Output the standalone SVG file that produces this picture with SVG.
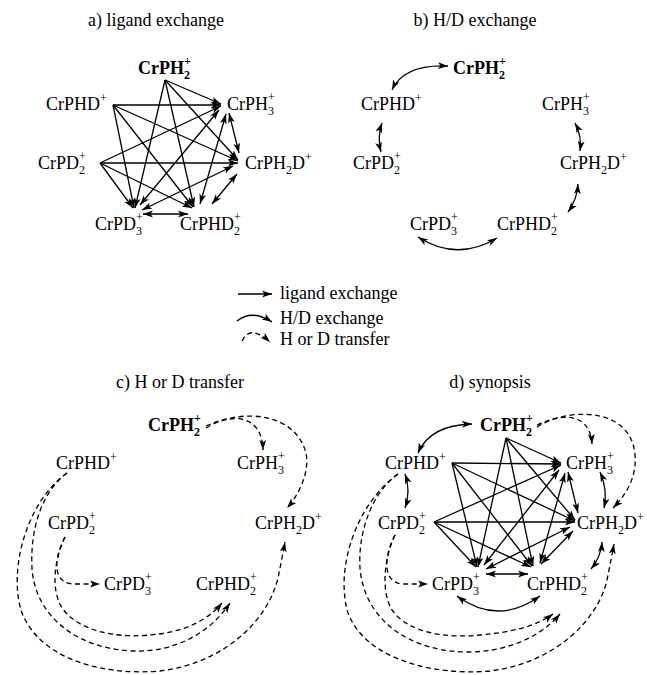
<svg xmlns="http://www.w3.org/2000/svg" width="647" height="675" viewBox="0 0 647 675">
<style>
.t{font-family:"Liberation Serif","Times New Roman",serif;font-size:18px;fill:#000}
.b{font-weight:bold}
.s{font-size:12px}
.ln{stroke:#000;stroke-width:1.3;fill:none}
.d{stroke-dasharray:5 3.5}
</style>
<defs>
<marker id="ah" viewBox="0 0 10 8" refX="10" refY="4" markerWidth="10" markerHeight="8" markerUnits="userSpaceOnUse" orient="auto-start-reverse"><path d="M0,0.6 L10,4 L0,7.4 L2.5,4 z" fill="#000"/></marker>
</defs>
<rect width="647" height="675" fill="#fff"/>

<!-- titles -->
<g id="titles">
<text class="t" x="156" y="26" text-anchor="middle">a) ligand exchange</text>
<text class="t" x="475" y="26" text-anchor="middle">b) H/D exchange</text>
<text class="t" x="180" y="388" text-anchor="middle">c) H or D transfer</text>
<text class="t" x="490" y="388" text-anchor="middle">d) synopsis</text>
</g>

<!-- ===== panel a ===== -->
<g id="a-PH2"><text class="t b" x="138" y="74">CrPH<tspan class="s" dy="5">2</tspan><tspan class="s" dx="-6" dy="-14">+</tspan></text></g>
<g id="a-PHD"><text class="t" x="46" y="110">CrPHD<tspan class="s" dy="-8">+</tspan></text></g>
<g id="a-PH3"><text class="t" x="227" y="110">CrPH<tspan class="s" dy="5">3</tspan><tspan class="s" dx="-6" dy="-14">+</tspan></text></g>
<g id="a-PD2"><text class="t" x="38" y="169">CrPD<tspan class="s" dy="5">2</tspan><tspan class="s" dx="-6" dy="-14">+</tspan></text></g>
<g id="a-PH2D"><text class="t" x="245" y="169">CrPH<tspan class="s" dy="5">2</tspan><tspan dy="-5">D</tspan><tspan class="s" dy="-8">+</tspan></text></g>
<g id="a-PD3"><text class="t" x="95" y="230">CrPD<tspan class="s" dy="5">3</tspan><tspan class="s" dx="-6" dy="-14">+</tspan></text></g>
<g id="a-PHD2"><text class="t" x="180" y="230">CrPHD<tspan class="s" dy="5">2</tspan><tspan class="s" dx="-6" dy="-14">+</tspan></text></g>

<!-- ===== panel b ===== -->
<g id="b-PH2"><text class="t b" x="453" y="74">CrPH<tspan class="s" dy="5">2</tspan><tspan class="s" dx="-6" dy="-14">+</tspan></text></g>
<g id="b-PHD"><text class="t" x="361" y="110">CrPHD<tspan class="s" dy="-8">+</tspan></text></g>
<g id="b-PH3"><text class="t" x="542" y="110">CrPH<tspan class="s" dy="5">3</tspan><tspan class="s" dx="-6" dy="-14">+</tspan></text></g>
<g id="b-PD2"><text class="t" x="353" y="169">CrPD<tspan class="s" dy="5">2</tspan><tspan class="s" dx="-6" dy="-14">+</tspan></text></g>
<g id="b-PH2D"><text class="t" x="560" y="169">CrPH<tspan class="s" dy="5">2</tspan><tspan dy="-5">D</tspan><tspan class="s" dy="-8">+</tspan></text></g>
<g id="b-PD3"><text class="t" x="410" y="230">CrPD<tspan class="s" dy="5">3</tspan><tspan class="s" dx="-6" dy="-14">+</tspan></text></g>
<g id="b-PHD2"><text class="t" x="497" y="230">CrPHD<tspan class="s" dy="5">2</tspan><tspan class="s" dx="-6" dy="-14">+</tspan></text></g>

<!-- ===== panel c ===== -->
<g id="c-PH2"><text class="t b" x="148" y="431">CrPH<tspan class="s" dy="5">2</tspan><tspan class="s" dx="-6" dy="-14">+</tspan></text></g>
<g id="c-PHD"><text class="t" x="56" y="469">CrPHD<tspan class="s" dy="-8">+</tspan></text></g>
<g id="c-PH3"><text class="t" x="237" y="469">CrPH<tspan class="s" dy="5">3</tspan><tspan class="s" dx="-6" dy="-14">+</tspan></text></g>
<g id="c-PD2"><text class="t" x="48" y="529">CrPD<tspan class="s" dy="5">2</tspan><tspan class="s" dx="-6" dy="-14">+</tspan></text></g>
<g id="c-PH2D"><text class="t" x="255" y="529">CrPH<tspan class="s" dy="5">2</tspan><tspan dy="-5">D</tspan><tspan class="s" dy="-8">+</tspan></text></g>
<g id="c-PD3"><text class="t" x="104" y="590">CrPD<tspan class="s" dy="5">3</tspan><tspan class="s" dx="-6" dy="-14">+</tspan></text></g>
<g id="c-PHD2"><text class="t" x="196" y="590">CrPHD<tspan class="s" dy="5">2</tspan><tspan class="s" dx="-6" dy="-14">+</tspan></text></g>

<!-- ===== panel d ===== -->
<g id="d-PH2"><text class="t b" x="480" y="431">CrPH<tspan class="s" dy="5">2</tspan><tspan class="s" dx="-6" dy="-14">+</tspan></text></g>
<g id="d-PHD"><text class="t" x="385" y="469">CrPHD<tspan class="s" dy="-8">+</tspan></text></g>
<g id="d-PH3"><text class="t" x="566" y="469">CrPH<tspan class="s" dy="5">3</tspan><tspan class="s" dx="-6" dy="-14">+</tspan></text></g>
<g id="d-PD2"><text class="t" x="378" y="529">CrPD<tspan class="s" dy="5">2</tspan><tspan class="s" dx="-6" dy="-14">+</tspan></text></g>
<g id="d-PH2D"><text class="t" x="577" y="529">CrPH<tspan class="s" dy="5">2</tspan><tspan dy="-5">D</tspan><tspan class="s" dy="-8">+</tspan></text></g>
<g id="d-PD3"><text class="t" x="432" y="590">CrPD<tspan class="s" dy="5">3</tspan><tspan class="s" dx="-6" dy="-14">+</tspan></text></g>
<g id="d-PHD2"><text class="t" x="527" y="590">CrPHD<tspan class="s" dy="5">2</tspan><tspan class="s" dx="-6" dy="-14">+</tspan></text></g>

<!-- legend -->
<g id="legend">
<line class="ln" x1="238" y1="294" x2="272" y2="294" marker-end="url(#ah)"/>
<text class="t" x="280" y="299">ligand exchange</text>
<path class="ln" d="M237,321 Q252,309 272,322" marker-end="url(#ah)"/>
<text class="t" x="280" y="324">H/D exchange</text>
<path class="ln d" d="M242,341 Q250,324 270,342" marker-end="url(#ah)"/>
<text class="t" x="280" y="345">H or D transfer</text>
</g>

<g id="connectors">
<!-- panel a ligand exchange -->
<g class="ln" marker-end="url(#ah)">
<line x1="165" y1="80" x2="221" y2="104"/>
<line x1="165" y1="80" x2="238" y2="160"/>
<line x1="165" y1="80" x2="135" y2="208"/>
<line x1="165" y1="80" x2="194" y2="207"/>
<line x1="113" y1="105" x2="221" y2="105"/>
<line x1="113" y1="105" x2="238" y2="161"/>
<line x1="113" y1="105" x2="134" y2="208"/>
<line x1="113" y1="105" x2="193" y2="207"/>
<line x1="100" y1="163" x2="221" y2="106"/>
<line x1="100" y1="163" x2="238" y2="163"/>
<line x1="100" y1="163" x2="133" y2="208"/>
<line x1="100" y1="163" x2="192" y2="208"/>
</g>
<g class="ln" marker-start="url(#ah)" marker-end="url(#ah)">
<line x1="229" y1="113" x2="239" y2="153"/>
<line x1="226" y1="114" x2="200" y2="204"/>
<line x1="219" y1="110" x2="140" y2="205"/>
<line x1="237" y1="174" x2="212" y2="204"/>
<line x1="233" y1="166" x2="142" y2="210"/>
<line x1="143" y1="214" x2="188" y2="214"/>
</g>

<!-- panel b H/D exchange -->
<g class="ln" marker-start="url(#ah)" marker-end="url(#ah)">
<path d="M392,90 Q404,64 448,66"/>
<path d="M382,123 Q377,137 381,152"/>
<path d="M575,123 Q582,136 580,151"/>
<path d="M578,184 Q577,200 568,212"/>
<path d="M418,237 Q457,262 497,238"/>
</g>

<!-- panel c H or D transfer -->
<g class="ln d" marker-end="url(#ah)">
<path d="M206,428 C230,413 262,413 263,450"/>
<path d="M206,426 C245,408 295,413 306,453 C310,473 298,496 287,508"/>
<path d="M67,473 C25,503 8,573 22,613 C40,658 100,676 160,671 C225,663 268,620 278,578 C281,563 283,553 285,542"/>
<path d="M67,473 C40,493 30,533 32,568 C35,618 80,650 135,651 C175,652 210,633 230,603"/>
<path d="M65,537 C55,558 50,588 62,608 C80,633 120,638 150,635 C185,632 208,620 222,603"/>
<path d="M65,537 C54,558 52,582 72,584 L100,584"/>
</g>

<!-- panel d ligand exchange -->
<g class="ln" marker-end="url(#ah)">
<line x1="506" y1="438" x2="561" y2="463"/>
<line x1="506" y1="438" x2="575" y2="520"/>
<line x1="506" y1="438" x2="478" y2="567"/>
<line x1="506" y1="438" x2="533" y2="566"/>
<line x1="452" y1="463" x2="561" y2="464"/>
<line x1="452" y1="463" x2="575" y2="521"/>
<line x1="452" y1="463" x2="477" y2="567"/>
<line x1="452" y1="463" x2="532" y2="566"/>
<line x1="434" y1="522" x2="561" y2="465"/>
<line x1="434" y1="522" x2="575" y2="522"/>
<line x1="434" y1="522" x2="476" y2="567"/>
<line x1="434" y1="522" x2="531" y2="567"/>
</g>
<g class="ln" marker-start="url(#ah)" marker-end="url(#ah)">
<line x1="568" y1="472" x2="578" y2="513"/>
<line x1="565" y1="473" x2="540" y2="563"/>
<line x1="559" y1="470" x2="484" y2="565"/>
<line x1="573" y1="531" x2="541" y2="564"/>
<line x1="570" y1="527" x2="486" y2="569"/>
<line x1="486" y1="574" x2="528" y2="574"/>
</g>
<!-- panel d H/D exchange -->
<g class="ln" marker-start="url(#ah)" marker-end="url(#ah)">
<path d="M418,453 Q430,425 472,424"/>
<path d="M405,474 Q411,491 405,508"/>
<path d="M600,472 Q608,490 604,508"/>
<path d="M602,542 Q601,557 591,569"/>
<path d="M457,596 Q498,626 540,596"/>
</g>
<!-- panel d H or D transfer -->
<g class="ln d" marker-end="url(#ah)">
<path d="M537,427 C560,412 590,412 592,444"/>
<path d="M537,425 C580,405 632,412 635,455 C637,478 625,496 613,508"/>
<path d="M398,474 C355,505 335,570 348,613 C365,658 430,676 490,671 C555,663 598,620 607,580 C610,565 612,555 614,544"/>
<path d="M398,474 C370,494 358,535 360,568 C364,620 410,652 468,652 C505,652 540,638 560,614"/>
<path d="M395,535 C385,556 380,590 392,610 C410,635 450,638 480,635 C515,632 538,625 553,614"/>
<path d="M395,535 C384,556 382,582 402,584 L428,584"/>
</g>
</g>
</svg>
